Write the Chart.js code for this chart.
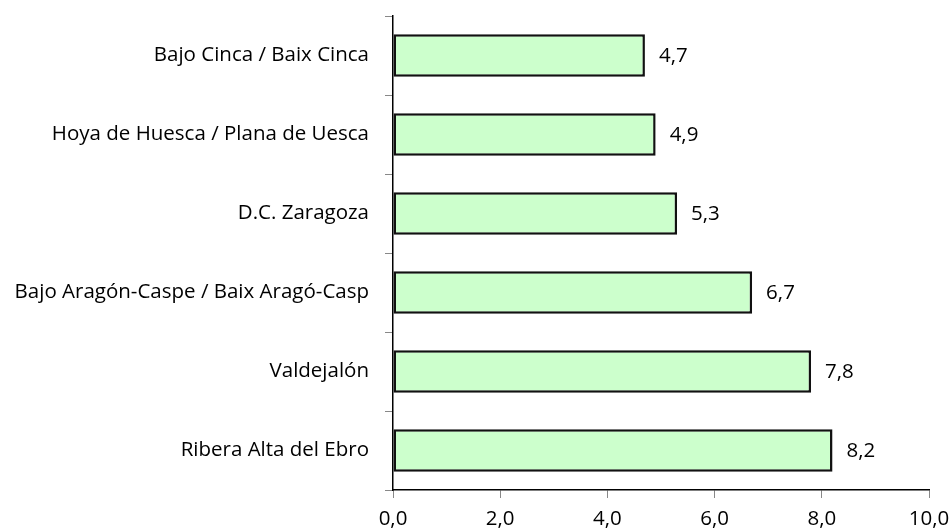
<!DOCTYPE html>
<html><head><meta charset="utf-8">
<script src="https://cdn.jsdelivr.net/npm/chart.js@4"></script>
<style>html,body{margin:0;padding:0;background:#fff}#wrap{width:952px;height:531px}</style>
</head><body><div id="wrap"><canvas id="c"></canvas></div>
<script>
const categories = ["Bajo Cinca / Baix Cinca","Hoya de Huesca / Plana de Uesca","D.C. Zaragoza","Bajo Aragón-Caspe / Baix Aragó-Casp","Valdejalón","Ribera Alta del Ebro"];
const values = [4.7, 4.9, 5.3, 6.7, 7.8, 8.2];
const xTicks = [0, 2, 4, 6, 8, 10];

const FONT = "'Open Sans', sans-serif";
const FS = 20.5;
const fmt = v => v.toFixed(1).replace('.', ',');

const labelPlugin = {
  id: 'vals',
  afterDatasetsDraw(chart) {
    const ctx = chart.ctx;
    const meta = chart.getDatasetMeta(0);
    ctx.save();
    ctx.font = FS + "px " + FONT;
    ctx.fillStyle = "#000";
    ctx.textBaseline = "middle";
    ctx.textAlign = "left";
    meta.data.forEach((el, i) => {
      ctx.fillText(fmt(values[i]), el.x + 14, el.y + 1);
    });
    ctx.restore();
  }
};

new Chart(document.getElementById('c'), {
  type: 'bar',
  data: {
    labels: categories,
    datasets: [{
      data: values,
      backgroundColor: '#CCFFCC',
      borderColor: '#111',
      borderWidth: 2.5,
      borderSkipped: false,
      barPercentage: 0.54,
      categoryPercentage: 1.0
    }]
  },
  options: {
    indexAxis: 'y',
    responsive: true,
    maintainAspectRatio: false,
    animation: false,
    layout: { padding: { left: 0, right: 23, top: 16, bottom: 0 } },
    plugins: { legend: { display: false }, tooltip: { enabled: false } },
    scales: {
      x: {
        min: 0, max: 10,
        afterBuildTicks(ax) { ax.ticks = xTicks.map(v => ({ value: v })); },
        afterFit(ax) { ax.height = 41; ax.paddingLeft = 0; ax.paddingRight = 0; },
        border: { color: '#000', width: 1.5 },
        grid: { drawOnChartArea: false, drawTicks: true, tickLength: 8, color: '#888' },
        ticks: { padding: 9, color: '#000', font: { family: FONT, size: FS }, callback: v => fmt(v), maxRotation: 0 }
      },
      y: {
        afterFit(ax) { ax.width = 393; ax.paddingTop = 0; ax.paddingBottom = 0; },
        border: { color: '#000', width: 1.5 },
        grid: { drawOnChartArea: false, drawTicks: true, tickLength: 8, color: '#888', offset: true },
        ticks: { padding: 16, color: '#000', font: { family: FONT, size: FS } }
      }
    }
  },
  plugins: [labelPlugin]
});
</script>
</body></html>
